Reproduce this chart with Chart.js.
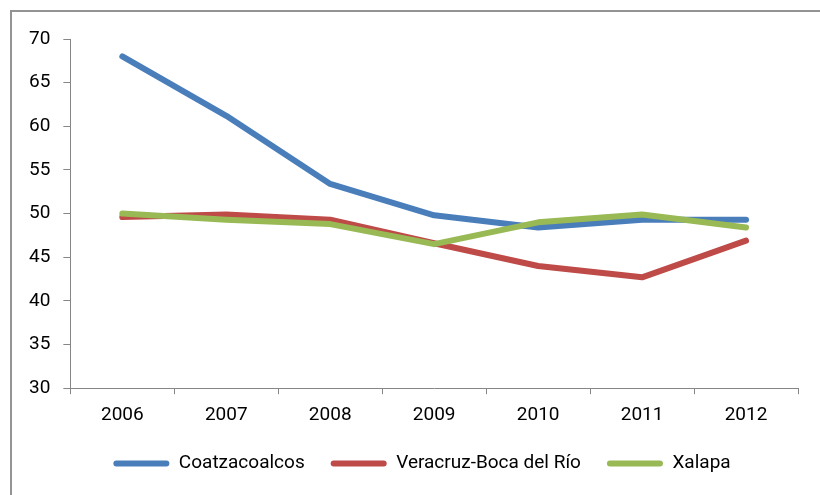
<!DOCTYPE html>
<html>
<head>
<meta charset="utf-8">
<script src="https://cdn.jsdelivr.net/npm/chart.js@4/dist/chart.umd.min.js"></script>
<style>
  html, body { margin: 0; padding: 0; background: #fff; overflow: hidden; width: 820px; height: 495px; }
  .frame { position: absolute; left: 10px; top: 10px; width: 824px; height: 490px; border: 2px solid #939393; }
  canvas { display: block; }
</style>
</head>
<body>
<div class="frame"><canvas id="chart" width="824" height="490"></canvas></div>
<script>
// Años y series
const years = ['2006', '2007', '2008', '2009', '2010', '2011', '2012'];
const coatzacoalcos = [68.0, 61.2, 53.4, 49.8, 48.4, 49.3, 49.3];
const veracruzBoca  = [49.6, 49.9, 49.3, 46.6, 44.0, 42.7, 46.9];
const xalapa        = [50.0, 49.3, 48.8, 46.5, 49.0, 49.9, 48.4];
const yTicks = [30, 35, 40, 45, 50, 55, 60, 65, 70];

const FONT = { family: 'Roboto, "Open Sans", sans-serif', size: 19 };
const AXIS = '#868686';

function serie(label, data, color, order) {
  return {
    label, data, order,
    borderColor: color,
    backgroundColor: color,
    borderWidth: 6,
    borderCapStyle: 'round',
    borderJoinStyle: 'round',
    pointRadius: 0,
    pointHoverRadius: 0,
    tension: 0,
    fill: false,
  };
}

// la leyenda va centrada respecto al marco completo y más pegada al eje
const legendShift = {
  id: 'legendShift',
  afterLayout(chart) {
    const lg = chart.legend;
    lg.left += 15; lg.right += 15;
    lg.top -= 9; lg.bottom -= 9;
  }
};

new Chart(document.getElementById('chart'), {
  type: 'line',
  data: {
    labels: years,
    datasets: [
      // Xalapa va encima de las otras dos líneas
      serie('Coatzacoalcos', coatzacoalcos, '#4A7EBB', 2),
      serie('Veracruz-Boca del Río', veracruzBoca, '#BE4B48', 1),
      serie('Xalapa', xalapa, '#98B954', 0),
    ]
  },
  plugins: [legendShift],
  options: {
    responsive: false,
    animation: false,
    events: [],
    layout: { padding: { left: 4, right: 38, top: 27, bottom: 10 } },
    plugins: {
      tooltip: { enabled: false },
      legend: {
        position: 'bottom',
        labels: {
          color: '#000',
          font: FONT,
          boxWidth: 56,
          boxHeight: 6,
          padding: 26,
          useBorderRadius: true,
          borderRadius: 3,
          sort: (a, b) => a.datasetIndex - b.datasetIndex,
          generateLabels: chart =>
            Chart.defaults.plugins.legend.labels.generateLabels(chart)
              .map(l => ({ ...l, lineWidth: 0 })),
        }
      }
    },
    scales: {
      x: {
        offset: true,
        grid: { offset: true, drawOnChartArea: false, tickLength: 6, color: AXIS },
        border: { color: AXIS, width: 1 },
        ticks: { color: '#000', font: FONT, padding: 10, maxRotation: 0 },
      },
      y: {
        min: 30,
        max: 70,
        afterBuildTicks: axis => { axis.ticks = yTicks.map(v => ({ value: v })); },
        grid: { drawOnChartArea: false, tickLength: 7, color: AXIS },
        border: { color: AXIS, width: 1 },
        ticks: { color: '#000', font: FONT, padding: 13 },
      }
    }
  }
});
</script>
</body>
</html>
